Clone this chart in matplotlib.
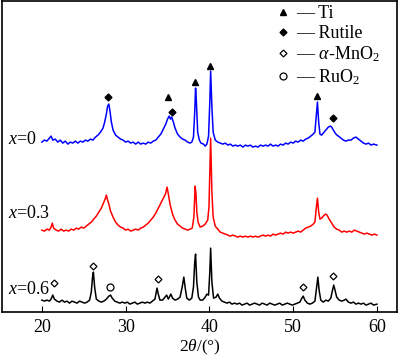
import matplotlib
matplotlib.use("Agg")
import matplotlib.pyplot as plt
from matplotlib.lines import Line2D

plt.rcParams['font.family'] = ['Liberation Serif', 'DejaVu Serif']
plt.rcParams['mathtext.fontset'] = 'custom'
plt.rcParams['mathtext.rm'] = 'Liberation Serif'
plt.rcParams['mathtext.it'] = 'Liberation Serif:italic'

# ---- data (intensity, arbitrary units, offset stacked) ----
# x = 0 (blue)
tt_0 = [20.0, 20.3, 20.6, 20.9, 21.1, 21.3, 21.6, 21.9, 22.2, 22.5, 22.8, 23.1, 23.4, 23.7, 24.0,
        24.3, 24.6, 24.9, 25.2, 25.5, 25.8, 26.1, 26.4, 26.7, 27.0, 27.3, 27.5, 27.7, 27.85, 28.0,
        28.15, 28.3, 28.5, 28.8, 29.1, 29.4, 29.7, 30.0, 30.3, 30.6, 30.9, 31.2, 31.5, 31.8, 32.1,
        32.4, 32.7, 33.0, 33.3, 33.6, 33.9, 34.2, 34.5, 34.8, 35.0, 35.2, 35.35, 35.5, 35.7, 35.9,
        36.2, 36.5, 36.8, 37.1, 37.4, 37.7, 37.9, 38.1, 38.25, 38.35, 38.45, 38.6, 38.8, 39.0, 39.3,
        39.5, 39.7, 39.9, 40.05, 40.15, 40.3, 40.45, 40.7, 41.0, 41.3, 41.6, 41.9, 42.2, 42.5, 42.8,
        43.1, 43.4, 43.7, 44.0, 44.3, 44.6, 44.9, 45.2, 45.5, 45.8, 46.1, 46.4, 46.7, 47.0, 47.3,
        47.6, 47.9, 48.2, 48.5, 48.8, 49.1, 49.4, 49.7, 50.0, 50.3, 50.6, 50.9, 51.2, 51.5, 51.8,
        52.1, 52.4, 52.6, 52.75, 52.9, 53.05, 53.2, 53.4, 53.6, 53.9, 54.2, 54.45, 54.6, 54.8, 55.1,
        55.4, 55.7, 56.0, 56.3, 56.6, 56.9, 57.2, 57.5, 57.8, 58.1, 58.4, 58.7, 59.0, 59.3, 59.6, 60.0]
int_0 = [170, 172, 171, 174, 176, 172, 173, 170, 172, 169, 171, 168, 170, 169, 171,
         169, 171, 170, 172, 171, 173, 172, 175, 177, 180, 184, 190, 198, 206, 208,
         200, 190, 182, 177, 175, 173, 172, 170, 171, 169, 170, 168, 170, 168, 169,
         168, 170, 169, 171, 172, 175, 178, 183, 188, 193, 196, 193, 195, 190, 184,
         178, 175, 173, 172, 170, 169, 170, 175, 200, 224, 210, 180, 172, 169, 168,
         166, 168, 176, 210, 241, 205, 180, 172, 170, 169, 168, 169, 167, 168, 166,
         167, 166, 167, 165, 167, 166, 167, 165, 166, 165, 167, 166, 167, 166, 168,
         166, 167, 166, 168, 167, 169, 168, 170, 169, 171, 170, 172, 171, 173, 174,
         176, 178, 180, 195, 210, 190, 178, 177, 179, 182, 185, 186, 185, 182, 178,
         176, 174, 172, 171, 172, 172, 174, 175, 173, 171, 169, 168, 169, 167, 168, 167]

# x = 0.3 (red)
tt_3 = [20.0, 20.3, 20.6, 20.9, 21.1, 21.25, 21.4, 21.7, 22.0, 22.3, 22.6, 22.9, 23.2, 23.5, 23.8,
        24.1, 24.4, 24.7, 25.0, 25.3, 25.6, 25.9, 26.2, 26.5, 26.8, 27.1, 27.35, 27.55, 27.7, 27.85,
        28.0, 28.2, 28.5, 28.8, 29.1, 29.4, 29.7, 30.0, 30.3, 30.6, 30.9, 31.2, 31.5, 31.8, 32.1,
        32.4, 32.7, 33.0, 33.3, 33.6, 33.9, 34.2, 34.5, 34.75, 34.95, 35.1, 35.3, 35.6, 35.9, 36.2,
        36.5, 36.8, 37.1, 37.4, 37.7, 37.95, 38.15, 38.3, 38.4, 38.5, 38.65, 38.9, 39.2, 39.5, 39.8,
        39.95, 40.05, 40.15, 40.3, 40.45, 40.7, 41.0, 41.3, 41.6, 41.9, 42.2, 42.5, 42.8, 43.1, 43.4,
        43.7, 44.0, 44.3, 44.6, 44.9, 45.2, 45.5, 45.8, 46.1, 46.4, 46.7, 47.0, 47.3, 47.6, 47.9,
        48.2, 48.5, 48.8, 49.1, 49.4, 49.7, 50.0, 50.3, 50.6, 50.9, 51.2, 51.5, 51.8, 52.1, 52.4,
        52.6, 52.75, 52.9, 53.05, 53.2, 53.4, 53.6, 53.85, 54.05, 54.3, 54.6, 54.9, 55.2, 55.5, 55.8,
        56.1, 56.4, 56.7, 57.0, 57.3, 57.6, 57.9, 58.2, 58.5, 58.8, 59.1, 59.4, 59.7, 60.0]
int_3 = [82, 81, 83, 82, 85, 89, 84, 82, 81, 83, 81, 82, 81, 83, 82,
         84, 83, 85, 84, 86, 88, 90, 93, 96, 100, 104, 109, 113, 117, 112,
         108, 101, 95, 90, 87, 85, 84, 82, 83, 81, 82, 83, 82, 84, 85,
         87, 89, 92, 95, 99, 104, 109, 114, 118, 125, 118, 108, 98, 92, 88,
         86, 84, 83, 82, 83, 84, 95, 126, 118, 100, 90, 85, 86, 88, 92,
         105, 140, 174, 120, 95, 86, 83, 80, 79, 78, 77, 76, 77, 76, 75,
         76, 75, 76, 75, 76, 75, 76, 75, 76, 77, 76, 77, 76, 78, 77,
         78, 79, 78, 80, 79, 80, 79, 80, 81, 80, 82, 84, 85, 86, 88,
         90, 103, 114, 100, 93, 94, 96, 98, 97, 93, 89, 85, 83, 82, 80,
         81, 80, 81, 80, 82, 81, 80, 79, 78, 79, 78, 77, 78, 77]

# x = 0.6 (black)
tt_6 = [20.0, 20.3, 20.6, 20.9, 21.1, 21.3, 21.5, 21.8, 22.1, 22.4, 22.7, 23.0, 23.3, 23.6, 23.9,
        24.2, 24.5, 24.8, 25.1, 25.4, 25.7, 25.9, 26.05, 26.15, 26.3, 26.5, 26.8, 27.1, 27.4, 27.7,
        28.0, 28.2, 28.4, 28.7, 29.0, 29.3, 29.6, 29.9, 30.2, 30.5, 30.8, 31.1, 31.4, 31.7, 32.0,
        32.3, 32.6, 32.9, 33.2, 33.5, 33.75, 33.9, 34.1, 34.4, 34.7, 34.9, 35.1, 35.4, 35.6, 35.9,
        36.2, 36.5, 36.75, 36.95, 37.1, 37.3, 37.6, 37.9, 38.1, 38.25, 38.35, 38.5, 38.7, 38.9, 39.2,
        39.5, 39.7, 39.9, 40.05, 40.15, 40.3, 40.5, 40.8, 41.0, 41.2, 41.5, 41.8, 42.1, 42.4, 42.7,
        43.0, 43.3, 43.6, 43.9, 44.2, 44.5, 44.8, 45.1, 45.4, 45.7, 46.0, 46.3, 46.6, 46.9, 47.2,
        47.5, 47.8, 48.1, 48.4, 48.7, 49.0, 49.3, 49.6, 49.9, 50.2, 50.5, 50.8, 51.05, 51.2, 51.4,
        51.7, 52.0, 52.3, 52.6, 52.8, 52.95, 53.1, 53.3, 53.6, 53.9, 54.2, 54.5, 54.7, 54.85, 55.0,
        55.2, 55.5, 55.8, 56.1, 56.3, 56.6, 56.9, 57.2, 57.5, 57.8, 58.1, 58.4, 58.7, 59.0, 59.3,
        59.6, 60.0]
int_6 = [12, 11, 12, 11, 13, 17, 13, 11, 10, 12, 10, 11, 9, 11, 10,
         9, 11, 10, 9, 10, 12, 20, 35, 40, 25, 13, 11, 10, 11, 13,
         16, 17, 14, 11, 10, 9, 10, 9, 10, 8, 9, 10, 8, 9, 10,
         9, 10, 9, 11, 13, 24, 18, 12, 12, 15, 17, 13, 18, 14, 12,
         13, 15, 25, 35, 25, 14, 12, 14, 25, 50, 58, 30, 15, 12, 12,
         15, 18, 17, 40, 64, 30, 14, 15, 18, 14, 11, 10, 9, 10, 8,
         9, 8, 9, 7, 8, 9, 7, 8, 9, 8, 7, 9, 8, 7, 9,
         8, 7, 8, 9, 7, 8, 9, 8, 7, 8, 9, 10, 14, 16, 12,
         9, 8, 9, 11, 25, 35, 22, 12, 10, 12, 11, 14, 22, 27, 22,
         15, 12, 11, 12, 13, 10, 9, 10, 8, 9, 8, 9, 7, 8, 9,
         7, 8]

# phase markers (2theta, height)
ti_pos = [35.1, 38.3, 40.1, 52.9]
ti_h = [215, 230, 246, 216]
rutile_pos = [27.9, 35.55, 54.7]
rutile_h = [215, 200, 194]
mno2_pos = [21.5, 26.1, 33.9, 51.2, 54.7]
mno2_h = [29, 46, 33, 25, 36]
ruo2_pos = [28.1]
ruo2_h = [25]

sample_labels = ['$x$=0', '$x$=0.3', '$x$=0.6']
label_h = [173, 99, 23]

fig = plt.figure(figsize=(4, 3.6), dpi=100)
ax = fig.add_axes([0.005, 0.133, 0.9875, 0.864])

ax.plot(tt_6, int_6, color='black', lw=1.1)
ax.plot(tt_3, int_3, color='red', lw=1.1)
ax.plot(tt_0, int_0, color='blue', lw=1.1)

ax.plot(ti_pos, ti_h, '^', color='black', ms=5, ls='none')
ax.plot(rutile_pos, rutile_h, 'D', color='black', ms=3.5, ls='none')
ax.plot(mno2_pos, mno2_h, 'D', mfc='white', mec='black', mew=0.9, ms=3.5, ls='none')
ax.plot(ruo2_pos, ruo2_h, 'o', mfc='white', mec='black', mew=0.9, ms=5, ls='none')

for lab, h in zip(sample_labels, label_h):
    ax.text(15.9, h, lab, fontsize=13, ha='left', va='center')

handles = [Line2D([], [], marker='^', color='black', ms=5, ls='none'),
           Line2D([], [], marker='D', color='black', ms=3.5, ls='none'),
           Line2D([], [], marker='D', mfc='white', mec='black', mew=0.9, ms=3.5, ls='none'),
           Line2D([], [], marker='o', mfc='white', mec='black', mew=0.9, ms=5, ls='none')]
names = ['— Ti', '— Rutile', '— $\\alpha$-MnO$_2$', '— RuO$_2$']
ax.legend(handles, names, loc='upper right', frameon=False, fontsize=13,
          handlelength=0.5, handletextpad=0.5, labelspacing=0.15,
          borderaxespad=0.0, bbox_to_anchor=(0.975, 1.01))

ax.set_xlim(15.24, 62.4)
ax.set_ylim(0, 311)
ax.set_xticks([20, 30, 40, 50, 60])
ax.set_yticks([])
ax.tick_params(axis='x', direction='in', length=4, labelsize=13, pad=5)
ax.set_xlabel('2$\\theta$/(°)', fontsize=12.5, labelpad=1)
for s in ax.spines.values():
    s.set_linewidth(1.2)

fig.savefig('out.png', dpi=100)
